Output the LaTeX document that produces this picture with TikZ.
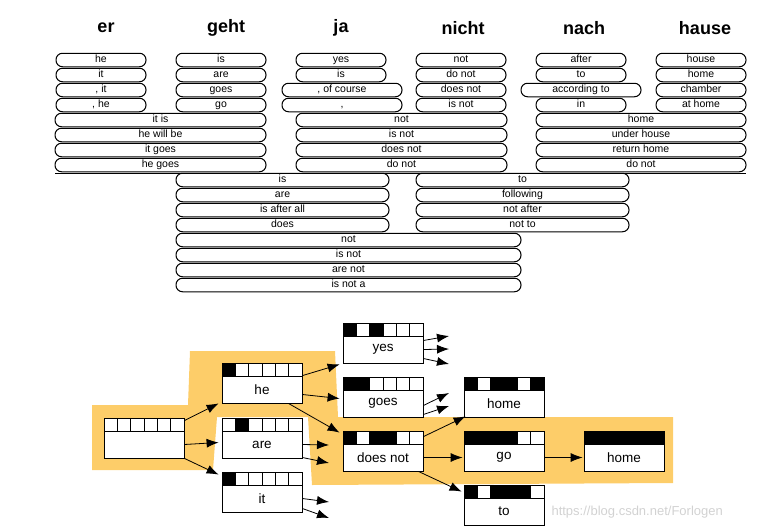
\documentclass[tikz,border=0pt]{standalone}
\usepackage{fontspec}
\setmainfont{Liberation Sans}
\usetikzlibrary{arrows.meta}
\begin{document}
\begin{tikzpicture}[x=1pt,y=-1pt,
  ph/.style={draw,rounded corners=6.5pt,minimum height=13.5pt,inner sep=0pt,text height=7.5pt,text depth=2pt,font=\fontsize{10.5}{11}\selectfont,line width=1pt},
  hd/.style={font=\fontsize{18}{20}\selectfont\bfseries},
  hbox/.style={draw,fill=white,minimum width=80pt,minimum height=27pt,inner sep=0pt,font=\fontsize{13.5}{15}\selectfont,line width=0.8pt},
  arr/.style={-{Latex[length=12pt,width=9pt]},line width=0.8pt}]
\colorlet{c0}{white}\colorlet{c1}{black}
\definecolor{hl}{RGB}{253,205,105}
\useasboundingbox (0,0) rectangle (765,530);
\newcommand\ph[5]{\node[ph,minimum width={#3-#2}] (#1) at ({(#2+#3)/2},#4) {#5};}
\newcommand\hyp[5]{%
  \node[hbox] (#1) at (#2+40,#3+26.5) {#4};
  \foreach \b [count=\i from 0] in {#5} {\draw[fill=c\b,line width=0.8pt] (#2+\i*13.333,#3) rectangle ++(13.333,13);}
}
% headings
\node[hd] (h1) at (106,28) {er};
\node[hd] (h2) at (226,28) {geht};
\node[hd] (h3) at (341,28) {ja};
\node[hd] (h4) at (463,28) {nicht};
\node[hd] (h5) at (584,28) {nach};
\node[hd] (h6) at (705,28) {hause};
\draw[line width=0.6pt] (55,173) -- (746,173);
% row 1
\ph{a1}{56}{146}{60}{he}\ph{a2}{56}{146}{75}{it}\ph{a3}{56}{146}{90}{, it}\ph{a4}{56}{146}{105}{, he}
\ph{b1}{176}{266}{60}{is}\ph{b2}{176}{266}{75}{are}\ph{b3}{176}{266}{90}{goes}\ph{b4}{176}{266}{105}{go}
\ph{c1}{296}{386}{60}{yes}\ph{c2}{296}{386}{75}{is}\ph{c3}{282}{402}{90}{, of course}\ph{c4}{282}{402}{105}{,}
\ph{d1}{416}{506}{60}{not}\ph{d2}{416}{506}{75}{do not}\ph{d3}{416}{506}{90}{does not}\ph{d4}{416}{506}{105}{is not}
\ph{f1}{536}{626}{60}{after}\ph{f2}{536}{626}{75}{to}\ph{f3}{521}{641}{90}{according to}\ph{f4}{536}{626}{105}{in}
\ph{g1}{656}{746}{60}{house}\ph{g2}{656}{746}{75}{home}\ph{g3}{656}{746}{90}{chamber}\ph{g4}{656}{746}{105}{at home}
% row 2
\ph{ab1}{55}{266}{120}{it is}\ph{ab2}{55}{266}{135}{he will be}\ph{ab3}{55}{266}{150}{it goes}\ph{ab4}{55}{266}{165}{he goes}
\ph{cd1}{296}{507}{120}{not}\ph{cd2}{296}{507}{135}{is not}\ph{cd3}{296}{507}{150}{does not}\ph{cd4}{296}{507}{165}{do not}
\ph{fg1}{536}{746}{120}{home}\ph{fg2}{536}{746}{135}{under house}\ph{fg3}{536}{746}{150}{return home}\ph{fg4}{536}{746}{165}{do not}
% row 3
\ph{bc1}{176}{389}{180}{is}\ph{bc2}{176}{389}{195}{are}\ph{bc3}{176}{389}{210}{is after all}\ph{bc4}{176}{389}{225}{does}
\ph{df1}{416}{629}{180}{to}\ph{df2}{416}{629}{195}{following}\ph{df3}{416}{629}{210}{not after}\ph{df4}{416}{629}{225}{not to}
% row 4
\ph{bd1}{176}{521}{240}{not}\ph{bd2}{176}{521}{255}{is not}\ph{bd3}{176}{521}{270}{are not}\ph{bd4}{176}{521}{285}{is not a}
% highlight
\fill[hl] (92,405) -- (188,405) -- (190,351) -- (335,351) -- (338,417) -- (673,417) -- (673,483) -- (312,485) -- (308,417) -- (217,417) -- (213,470) -- (92,470) -- cycle;
% hypotheses
\hyp{s}{104}{418}{}{0,0,0,0,0,0}
\hyp{he}{222}{363}{he}{1,0,0,0,0,0}
\hyp{are}{222}{418}{are}{0,1,0,0,0,0}
\hyp{it}{222}{472}{it}{1,0,0,0,0,0}
\hyp{yes}{343}{323}{yes}{1,0,1,0,0,0}
\hyp{goes}{343}{377}{goes}{1,1,0,0,0,0}
\hyp{dn}{343}{431}{does not}{1,0,1,1,0,0}
\hyp{hm}{464}{377}{home}{1,0,1,1,0,1}
\hyp{go}{464}{431}{go}{1,1,1,1,0,0}
\hyp{to}{464}{485}{to}{1,0,1,1,1,0}
\hyp{hf}{584}{431}{home}{1,1,1,1,1,1}
% free ends
\coordinate (ea1) at (329,445); \coordinate (ea2) at (329,463);
\coordinate (ei1) at (329,502); \coordinate (ei2) at (329,518);
\coordinate (ey1) at (449,336); \coordinate (ey2) at (449,349); \coordinate (ey3) at (449,364);
\coordinate (eo1) at (449,393); \coordinate (eo2) at (449,406);
% arrows
\draw[arr] ([yshift=10pt]s.north east) -- ([xshift=-3pt]he.south west);
\draw[arr] (s.east) -- ([xshift=-3pt,yshift=2pt]are.west);
\draw[arr] (s.south east) -- ([xshift=-3pt,yshift=10pt]it.north west);
\draw[arr] (he.north east) -- ([xshift=-3pt,yshift=-1pt]yes.south west);
\draw[arr] ([yshift=-5pt]he.east) -- ([xshift=-3pt,yshift=5pt]goes.west);
\draw[arr] ([xshift=-14pt]he.south east) -- ([xshift=-3pt,yshift=11pt]dn.north west);
\draw[arr] (are.east) -- (ea1);
\draw[arr] ([yshift=-13pt]are.east) -- (ea2);
\draw[arr] (it.east) -- (ei1);
\draw[arr] ([yshift=-10pt]it.east) -- (ei2);
\draw[arr] ([yshift=9pt]yes.east) -- (ey1);
\draw[arr] (yes.east) -- (ey2);
\draw[arr] ([yshift=-9pt]yes.east) -- (ey3);
\draw[arr] ([yshift=-2pt]goes.east) -- (eo1);
\draw[arr] ([yshift=-11pt]goes.east) -- (eo2);
\draw[arr] ([yshift=7pt]dn.north east) -- ([xshift=2pt,yshift=1pt]hm.south west);
\draw[arr] (dn.east) -- ([xshift=-1pt]go.west);
\draw[arr] ([xshift=-5pt]dn.south east) -- ([xshift=-2pt,yshift=6pt]to.north west);
\draw[arr] (go.east) -- ([xshift=-1pt]hf.west);
\node[text=gray!35,font=\fontsize{13}{15}\selectfont,anchor=west] (wm) at (548,512) {https://blog.csdn.net/Forlogen};
\end{tikzpicture}
\end{document}
